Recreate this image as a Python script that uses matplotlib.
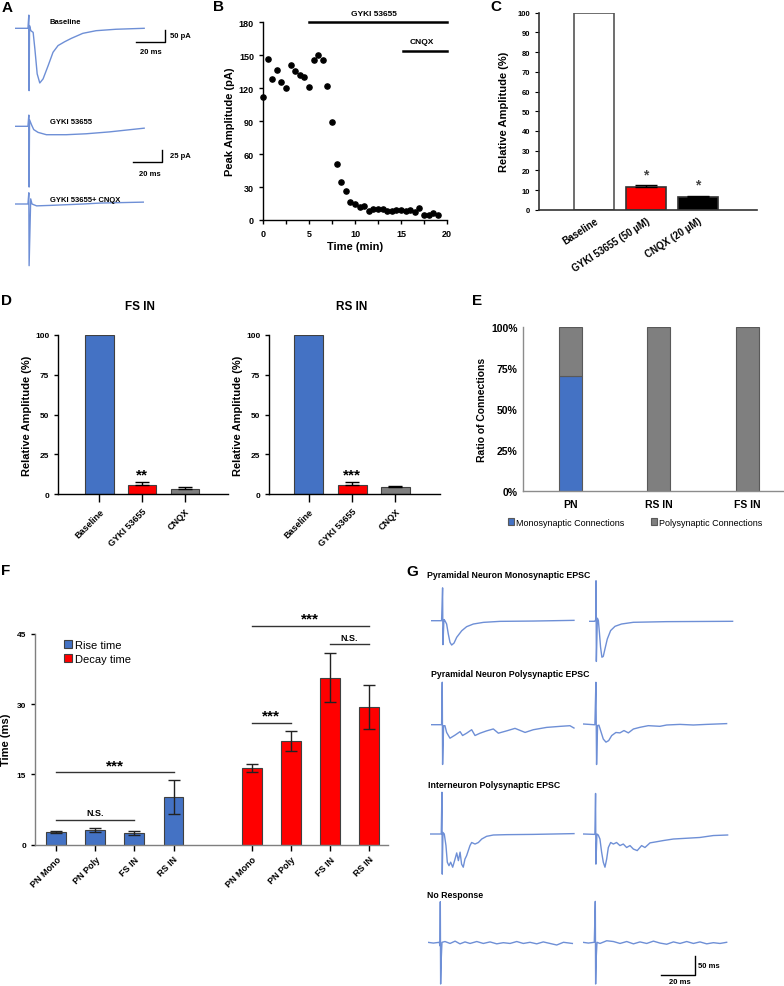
import matplotlib.pyplot as plt
import numpy as np

plt.rcParams['font.family'] = ['Liberation Sans', 'DejaVu Sans']
plt.rcParams['font.weight'] = 'bold'
plt.rcParams['axes.labelweight'] = 'bold'

W, H = 784, 987
TRACE = '#6e8fd6'
BLUE = '#4472c4'
RED = '#ff0000'
GRAY = '#7f7f7f'

# %% data -------------------------------------------------------------------
# A: example EPSC traces (time in ms, current in pA)
A_labels = ['Baseline', 'GYKI 53655', 'GYKI 53655+ CNQX']
a_base_t = [0, 9, 9.6, 9.8, 10.1, 11, 12.6, 13.8, 15.4, 17.2, 19.5, 23, 26.4, 29.9,
            34.5, 39.1, 47.1, 56.3, 70.1, 89.7]
a_base_i = [0, 0, 55, -260, 11, -10, -17, -86, -190, -228, -211, -156, -100, -72,
            -56, -42, -21, -10, -4, 0]
a_gyki_t = [0, 9, 9.6, 9.8, 10.1, 11.5, 13, 16, 21.8, 35.6, 49.4, 65.5, 89.7]
a_gyki_i = [0, 0, 24, -130, 14, 3, -7, -13, -18, -18, -16, -12, -4]
a_cnqx_t = [0, 9, 9.6, 9.8, 10.9, 11.8, 15, 24.3, 47.4, 59, 89.1]
a_cnqx_i = [0, 0, 24, -132, 11, 0, -4, -3, 0, 2, 4]

# B: peak amplitude time course
B_time = [0, 0.5, 1, 1.5, 2, 2.5, 3, 3.5, 4, 4.5, 5, 5.5, 6, 6.5, 7, 7.5, 8, 8.5, 9,
          9.5, 10, 10.5, 11, 11.5, 12, 12.5, 13, 13.5, 14, 14.5, 15, 15.5, 16, 16.5,
          17, 17.5, 18, 18.5, 19]
B_amp = [112, 147, 128, 137, 126, 120, 141, 136, 132, 130, 121, 146, 150, 146, 122,
         89, 51, 35, 26, 16, 14.5, 12, 13, 8.5, 10, 10, 9.6, 8, 8, 9, 9.3, 7.8, 9,
         7.2, 10.5, 4.5, 5, 6.3, 4.8]
B_drugs = ['GYKI 53655', 'CNQX']
B_drug_start = [5, 15.25]
B_drug_level = [180, 154]

# C: relative amplitude
C_labels = ['Baseline', 'GYKI 53655 (50 µM)', 'CNQX (20 µM)']
C_vals = [100, 11.5, 6.5]
C_err = [0, 0.8, 0.6]
C_stars = ['', '*', '*']

# D: relative amplitude in interneurons
D_titles = ['FS IN', 'RS IN']
D_labels = ['Baseline', 'GYKI 53655', 'CNQX']
D_fs_vals = [100, 5.8, 3.3]
D_fs_err = [0, 1.7, 1.3]
D_rs_vals = [100, 5.8, 4.4]
D_rs_err = [0, 1.7, 0.6]
D_stars = ['**', '***']

# E: connection types
E_cells = ['PN', 'RS IN', 'FS IN']
E_mono = [70, 0, 0]
E_poly = [30, 100, 100]
E_ticks = [0, 25, 50, 75, 100]

# F: kinetics
F_cells = ['PN Mono', 'PN Poly', 'FS IN', 'RS IN']
F_rise = [2.7, 3.2, 2.56, 10.2]
F_rise_err = [0.2, 0.4, 0.45, 3.7]
F_decay = [16.4, 22.1, 35.6, 29.4]
F_decay_err = [0.8, 2.1, 5.2, 4.7]
# (from bar, to bar, height, label), bars numbered 0-3 rise, 4-7 decay
F_sig_from = [0, 0, 4, 6, 4]
F_sig_to = [2, 3, 5, 7, 7]
F_sig_y = [5.3, 15.4, 25.9, 42.7, 46.7]
F_sig_text = ['N.S.', '***', '***', 'N.S.', '***']

# G: example traces (ms, pA)
G_labels = ['Pyramidal Neuron Monosynaptic EPSC', 'Pyramidal Neuron Polysynaptic EPSC',
            'Interneuron Polysynaptic EPSC', 'No Response']
g1l_t = [0, 6.3, 6.9, 7.1, 7.7, 8.3, 9.3, 10.3, 11.3, 12.3, 13.7, 15.3, 18.3, 21.2,
         25.2, 31.2, 41.1, 60.9, 85.1]
g1l_i = [0, 0, 85, -62, 3, 0, -8.6, -34.5, -56, -63, -58, -43, -26, -15.5, -8.6,
         -4.3, -1.7, -0.9, 0.9]
g1r_t = [0, 3.2, 3.8, 4.0, 4.2, 4.8, 5.4, 6.0, 6.7, 7.5, 8.3, 9.3, 10.7, 12.7, 15.3,
         19.2, 26.2, 46, 85.3]
g1r_i = [0, 0, 4, 105, -104, 8, 2, -28, -67, -93, -91, -72, -46, -24, -13, -7, -2.6,
         -0.9, 0]
g2l_t = [0, 6.3, 6.7, 6.9, 7.5, 8.3, 9.3, 11.3, 14.3, 17.3, 18.8, 21.2, 24.2, 26.2,
         29.2, 33.1, 37.1, 40.1, 45, 50, 56, 60.9, 68.8, 76.8, 82.7, 85.1]
g2l_i = [0, 0, 110, -103, -2.6, -2.6, -20, -35, -27, -18, -28, -22, -13, -28, -22,
         -16, -11, -22, -16, -9.5, -20, -13, -7, -4.3, -2.6, -8.6]
g2r_t = [0, 6.9, 7.5, 7.9, 8.5, 9.3, 10.3, 11.9, 13.5, 15.1, 16.9, 19.4, 21.8, 24.2,
         26.8, 29.8, 33.7, 38.7, 45.6, 49.6, 57.5, 65.5, 73.4, 85.3]
g2r_i = [0, -2, 108, -105, -4, -3, -17, -39, -47, -43, -30, -22, -23, -17, -23, -13,
         -8.6, -4.3, -6, -2.6, -1, -2.6, -1, 1]
g3l_t = [0, 6.7, 7.1, 7.3, 7.7, 8.5, 9.5, 10.3, 11.3, 12.3, 13.5, 14.9, 15.9, 16.9,
         17.9, 18.8, 19.8, 20.8, 21.8, 22.8, 23.8, 24.8, 26.8, 28.8, 30.8, 33.7, 37.7,
         45.6, 61.5, 85.7]
g3l_i = [0, 0, 108, -104, 4, 0, -30, -73, -82, -73, -86, -65, -49, -69, -47, -78,
         -86, -65, -56, -43, -30, -22, -26, -22, -13, -6, -2.6, -1.7, -1, 1]
g3r_t = [0, 6.9, 7.3, 7.5, 8.1, 8.9, 9.9, 10.9, 11.9, 12.9, 13.9, 14.9, 16.3, 17.9,
         19.8, 21.8, 23.8, 25.8, 27.8, 29.8, 32.1, 34.7, 36.7, 39.7, 43.7, 47.6, 53.6,
         61.5, 69.4, 77.4, 85.9]
g3r_i = [0, -1, 105, -78, 0, -2.6, -13, -47, -73, -86, -65, -35, -22, -26, -22, -30,
         -26, -35, -30, -39, -43, -30, -35, -23, -20, -17, -13, -11, -9, -4, -2.6]
g4l_t = [0, 3.4, 6.9, 7.3, 7.5, 7.7, 8.1, 8.5, 10.3, 13.3, 16.3, 19.2, 22.2, 25.2,
         29.2, 33.1, 37.1, 41.1, 45, 49, 53, 56.9, 60.9, 64.9, 68.8, 72.8, 76.8, 80.8,
         86.1]
g4l_i = [0, -2, 0, -9, 105, -108, -39, 0, 2, -3, 3, -4, 1, -3, 2, -3, 1, -4, -1, -3,
         2, -3, 0, -4, 1, -3, -7, 0, -3]
g4r_t = [0, 3.4, 6.9, 7.5, 7.7, 8.1, 8.5, 10.3, 14.3, 18.3, 22.2, 26.2, 30.2, 34.1,
         38.1, 42.1, 46, 50, 54, 57.9, 61.9, 65.9, 69.8, 73.8, 77.8, 81.7, 85.7]
g4r_i = [0, -2, 0, 106, -108, -35, 0, -3, 4, 2, -3, 2, -4, 1, -3, 3, -2, -5, 1, -3, 2,
         -3, 1, -4, -1, -3, 0]

# %% helpers ----------------------------------------------------------------
fig = plt.figure(figsize=(W / 100, H / 100), dpi=100)


def px_axes(x0, y0, x1, y1):
    ax = fig.add_axes([x0 / W, 1 - y1 / H, (x1 - x0) / W, (y1 - y0) / H])
    ax.patch.set_visible(False)
    return ax


def px_text(x, y, s, size=6, weight='bold', **kw):
    fig.text(x / W, 1 - y / H, s, fontsize=size, fontweight=weight, va='center', **kw)


def trace_axes(left, base, px_ms, px_unit, tmax, vmin, vmax):
    ax = px_axes(left, base - vmax * px_unit, left + tmax * px_ms, base - vmin * px_unit)
    ax.set_xlim(0, tmax)
    ax.set_ylim(vmin, vmax)
    ax.axis('off')
    return ax


def scale_bar(ax, t0, v0, dt, dv):
    ax.plot([t0, t0 + dt, t0 + dt], [v0, v0, v0 + dv], color='black', lw=1,
            clip_on=False)


def bar_style(ax, color='black', lw=1.0):
    for side in ['top', 'right']:
        ax.spines[side].set_visible(False)
    for side in ['left', 'bottom']:
        ax.spines[side].set_color(color)
        ax.spines[side].set_linewidth(lw)


# %% panel letters
for letter, x, y in [('A', 7, 8), ('B', 218, 7), ('C', 496, 7), ('D', 6, 301),
                     ('E', 477, 301), ('F', 6, 571), ('G', 412, 572)]:
    px_text(x, y, letter, size=11, ha='center')

# %% A
ax = trace_axes(15, 29.3, 1.44, 1 / 4.17, 112, -290, 80)
ax.plot(a_base_t, a_base_i, color=TRACE, lw=1)
scale_bar(ax, 84, -58, 20, 50)
ax = trace_axes(15, 127.3, 1.44, 1 / 2.14, 112, -150, 40)
ax.plot(a_gyki_t, a_gyki_i, color=TRACE, lw=1)
scale_bar(ax, 82, -76, 20, 25)
ax = trace_axes(15, 205, 1.44, 1 / 2.14, 112, -150, 40)
ax.plot(a_cnqx_t, a_cnqx_i, color=TRACE, lw=1)
for lab, y in zip(A_labels, [22.5, 122.7, 200.7]):
    px_text(50, y, lab, size=5.5)
px_text(170, 36.7, '50 pA', size=5.5)
px_text(140, 52.7, '20 ms', size=5.5)
px_text(170, 157, '25 pA', size=5.5)
px_text(139, 174, '20 ms', size=5.5)

# %% B
axB = px_axes(263, 23.3, 447, 221)
axB.scatter(B_time, B_amp, s=14, color='black', clip_on=False, zorder=3)
axB.set_xlim(0, 20)
axB.set_ylim(0, 180)
axB.set_xticks(np.arange(0, 21, 5))
axB.set_xticks(np.arange(0, 20.1, 2.5), minor=True)
axB.set_yticks(np.arange(0, 181, 30))
axB.tick_params(labelsize=6.5, length=3, width=1)
axB.tick_params(which='minor', length=3, width=1)
bar_style(axB)
axB.set_xlabel('Time (min)', fontsize=8, labelpad=2)
axB.set_ylabel('Peak Amplitude (pA)', fontsize=8, labelpad=3)
for name, start, level in zip(B_drugs, B_drug_start, B_drug_level):
    axB.plot([start, 20], [level, level], color='black', lw=1.8, clip_on=False)
    axB.annotate(name, xy=((start + 20) / 2 - 0.4, level), xytext=(0, 4),
                 textcoords='offset points', ha='center', va='bottom', fontsize=6)

# %% C
axC = px_axes(539.3, 13.7, 756.7, 210.7)
xc = np.arange(len(C_vals))
axC.bar(xc, C_vals, width=0.77, color=['white', RED, 'black'],
        edgecolor=['#555555', '#333333', '#333333'], lw=1.2)
axC.errorbar(xc[1:], C_vals[1:], yerr=[np.zeros(2), C_err[1:]], fmt='none',
             ecolor='black', capsize=8, lw=1)
for x, v, e, s in zip(xc, C_vals, C_err, C_stars):
    axC.text(x, v + e + 2.0, s, ha='center', va='bottom', fontsize=10, color='#444444')
axC.set_xlim(-1.06, 3.13)
axC.set_ylim(0, 100)
axC.set_yticks(np.arange(0, 101, 10))
axC.set_xticks(xc)
axC.set_xticklabels(C_labels, rotation=33, ha='right', rotation_mode='anchor',
                    fontsize=7)
axC.tick_params(axis='x', length=0, pad=4)
axC.tick_params(axis='y', labelsize=5.5, length=3)
bar_style(axC, '#333333', 1.2)
axC.set_ylabel('Relative Amplitude (%)', fontsize=8, labelpad=6)

# %% D
for (x0, x1, xl, xr), title, vals, errs, stars in zip(
        [(58.3, 228, -0.95, 3.0), (269.3, 440, -0.91, 3.03)], D_titles,
        [D_fs_vals, D_rs_vals], [D_fs_err, D_rs_err], D_stars):
    ax = px_axes(x0, 336, x1, 495)
    xd = np.arange(len(vals))
    ax.bar(xd, vals, width=0.67, color=[BLUE, RED, GRAY], edgecolor='#404040', lw=0.8)
    ax.errorbar(xd[1:], vals[1:], yerr=[np.zeros(2), errs[1:]], fmt='none',
                ecolor='black', capsize=5, lw=1)
    ax.text(xd[1], vals[1] + errs[1] + 0.2, stars, ha='center', va='bottom',
            fontsize=11)
    ax.set_xlim(xl, xr)
    ax.set_ylim(0, 100)
    ax.set_yticks([0, 25, 50, 75, 100])
    ax.set_xticks(xd)
    ax.set_xticklabels(D_labels, rotation=45, ha='right', rotation_mode='anchor',
                       fontsize=6.5)
    ax.tick_params(axis='x', length=6, width=1, pad=3)
    ax.tick_params(axis='y', labelsize=6, length=3, width=1)
    bar_style(ax)
    ax.set_ylabel('Relative Amplitude (%)', fontsize=8, labelpad=2)
    ax.text(0.48, 1.18, title, transform=ax.transAxes, ha='center', va='center',
            fontsize=8.5)

# %% E
axE = px_axes(523.3, 328.3, 783, 492)
xe = np.arange(len(E_cells))
axE.bar(xe, E_mono, width=0.26, color=BLUE, edgecolor='#595959', lw=0.8,
        label='Monosynaptic Connections')
axE.bar(xe, E_poly, width=0.26, bottom=E_mono, color=GRAY, edgecolor='#595959',
        lw=0.8, label='Polysynaptic Connections')
axE.set_xlim(-0.53, 2.4)
axE.set_ylim(0, 100)
axE.set_yticks(E_ticks)
axE.set_yticklabels([f'{t}%' for t in E_ticks])
axE.set_xticks(xe)
axE.set_xticklabels(E_cells)
axE.tick_params(labelsize=7.5, length=0, pad=4)
axE.tick_params(axis='x', pad=6)
bar_style(axE, '#8c8c8c', 1)
axE.set_ylabel('Ratio of Connections', fontsize=7.5, labelpad=3)
axE.legend(loc='center', bbox_to_anchor=(0.43, -0.19), ncol=2, frameon=False,
           prop={'size': 6.5, 'weight': 'normal'}, handlelength=0.7,
           handleheight=0.7, handletextpad=0.2, columnspacing=3)

# %% F
axF = px_axes(35, 634.7, 388.3, 845.7)
x_rise = np.arange(len(F_cells))
x_decay = x_rise + len(F_cells) + 1
axF.bar(x_rise, F_rise, width=0.51, color=BLUE, edgecolor='#404040', lw=0.8,
        label='Rise time')
axF.bar(x_decay, F_decay, width=0.51, color=RED, edgecolor='#404040', lw=0.8,
        label='Decay time')
axF.errorbar(x_rise, F_rise, yerr=F_rise_err, fmt='none', ecolor='#222222',
             capsize=4, lw=1)
axF.errorbar(x_decay, F_decay, yerr=F_decay_err, fmt='none', ecolor='#222222',
             capsize=4, lw=1)
x_all = np.concatenate([x_rise, x_decay])
for i, j, y, s in zip(F_sig_from, F_sig_to, F_sig_y, F_sig_text):
    axF.plot([x_all[i], x_all[j]], [y, y], color='#333333', lw=1, clip_on=False)
    if s == 'N.S.':
        axF.text((x_all[i] + x_all[j]) / 2, y + 0.6, s, ha='center', va='bottom',
                 fontsize=6.5, clip_on=False)
    else:
        axF.text((x_all[i] + x_all[j]) / 2, y + 0.1, s, ha='center', va='bottom',
                 fontsize=11, clip_on=False)
axF.set_xlim(-0.54, 8.49)
axF.set_ylim(0, 45)
axF.set_yticks([0, 15, 30, 45])
axF.set_xticks(x_all)
axF.set_xticklabels(F_cells * 2, rotation=45, ha='right', rotation_mode='anchor',
                    fontsize=6.5)
axF.tick_params(axis='x', length=4, width=1, pad=3)
axF.tick_params(axis='y', labelsize=6, length=3, width=1)
bar_style(axF, '#7f7f7f', 1)
axF.set_ylabel('Time (ms)', fontsize=8, labelpad=4)
axF.legend(loc='upper left', bbox_to_anchor=(0.07, 0.99), frameon=False,
           prop={'size': 8, 'weight': 'normal'}, handlelength=0.7, handleheight=0.7,
           handletextpad=0.3, labelspacing=0.3, borderaxespad=0)

# %% G
g_lefts = [431, 589.3, 431, 583.3, 430, 583.3, 427.7, 582.7]
g_bases = [621.7, 622.3, 725.7, 725, 835, 835, 943.3, 943.3]
g_series = [(g1l_t, g1l_i), (g1r_t, g1r_i), (g2l_t, g2l_i), (g2r_t, g2r_i),
            (g3l_t, g3l_i), (g3r_t, g3r_i), (g4l_t, g4l_i), (g4r_t, g4r_i)]
for left, base, (t, i) in zip(g_lefts, g_bases, g_series):
    ax = trace_axes(left, base, 1.68, 1 / 2.59, 88, -115, 115)
    ax.plot(t, i, color=TRACE, lw=1)
scale_bar(ax, 46.6, -84.7, 20, 50)
for lab, x, y in zip(G_labels, [427, 431, 428, 427], [575, 675, 786, 896]):
    px_text(x, y, lab, size=6.3)
px_text(698, 966.7, '50 ms', size=5.5)
px_text(669, 983, '20 ms', size=5.5)

fig.savefig('out.png', dpi=100)
